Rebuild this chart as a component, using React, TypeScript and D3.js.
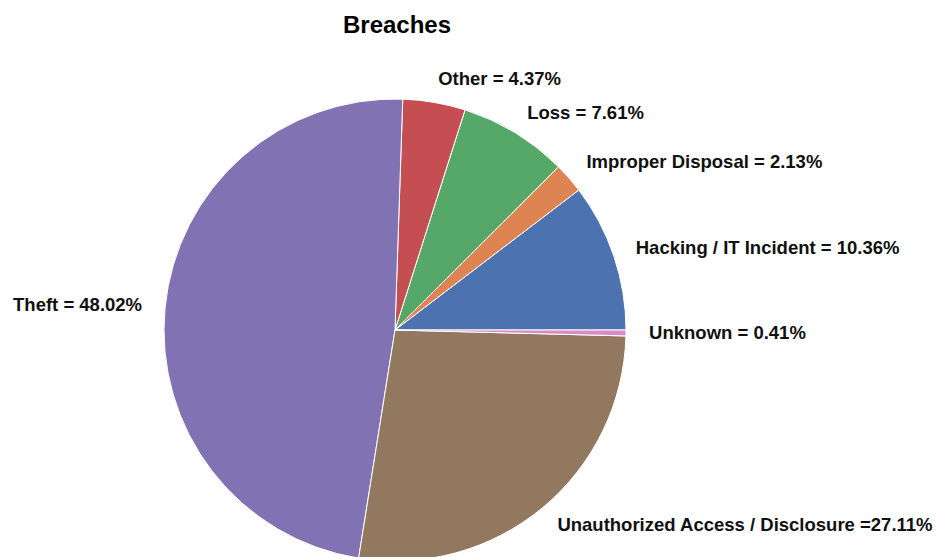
import React from "react";
import * as d3 from "d3";

const categories = [
  "Hacking / IT Incident",
  "Improper Disposal",
  "Loss",
  "Other",
  "Theft",
  "Unauthorized Access / Disclosure",
  "Unknown",
];
const values = [10.36, 2.13, 7.61, 4.37, 48.02, 27.11, 0.41];
const labels = [
  "Hacking / IT Incident = 10.36%",
  "Improper Disposal = 2.13%",
  "Loss = 7.61%",
  "Other = 4.37%",
  "Theft = 48.02%",
  "Unauthorized Access / Disclosure =27.11%",
  "Unknown = 0.41%",
];
const colors = ["#4C72B0", "#DD8452", "#55A868", "#C44E52", "#8172B3", "#937860", "#DA8BC3"];
const title = "Breaches";

const W = 939;
const H = 557;
const cx = 395;
const cy = 330;
const R = 231;

export default function App() {
  const data = categories.map((c, i) => ({ c, v: values[i], label: labels[i], color: colors[i] }));
  const pie = d3
    .pie<any>()
    .value((d) => d.v)
    .sort(null)
    .startAngle(Math.PI / 2)
    .endAngle(Math.PI / 2 - 2 * Math.PI);
  const arcs = pie(data);
  const arc = d3.arc<any>().innerRadius(0).outerRadius(R);
  const font = "'Liberation Sans', Arial, Helvetica, sans-serif";
  return (
    <svg
      width={W}
      height={H}
      style={{ position: "absolute", left: 0, top: 0, background: "#fff" }}
    >
      <text
        x={397}
        y={33}
        textAnchor="middle"
        fontFamily={font}
        fontWeight="bold"
        fontSize={24}
        fill="#000"
      >
        {title}
      </text>
      <g transform={`translate(${cx},${cy})`}>
        {arcs.map((a, i) => (
          <path key={i} d={arc(a) as string} fill={a.data.color} stroke="#fff" strokeWidth={1} />
        ))}
        {arcs.map((a, i) => {
          const mid = (a.startAngle + a.endAngle) / 2;
          const lx = R * 1.1 * Math.sin(mid);
          const ly = -R * 1.1 * Math.cos(mid);
          return (
            <text
              key={"l" + i}
              x={lx}
              y={ly}
              dy="0.3em"
              textAnchor={lx >= 0 ? "start" : "end"}
              fontFamily={font}
              fontWeight="bold"
              fontSize={18.5}
              fill="#111"
            >
              {a.data.label}
            </text>
          );
        })}
      </g>
    </svg>
  );
}
